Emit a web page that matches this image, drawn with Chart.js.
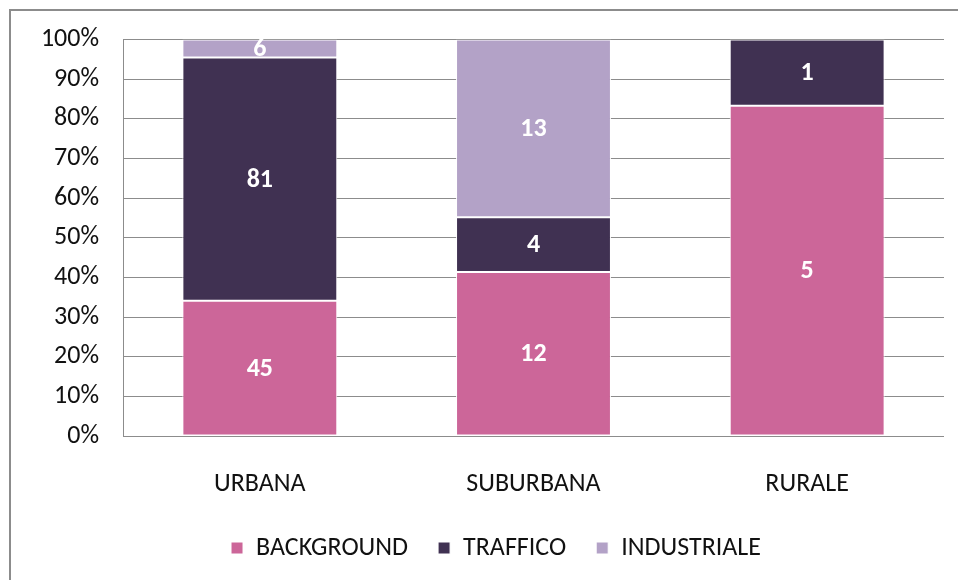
<!DOCTYPE html>
<html>
<head>
<meta charset="utf-8">
<script src="https://cdn.jsdelivr.net/npm/chart.js@4"></script>
<style>
  html, body { margin: 0; padding: 0; background: #fff; overflow: hidden; }
  #cornice { position: absolute; left: 9px; top: 9px; width: 970px; height: 590px; border: 2px solid #8c8c8c; box-sizing: border-box; }
  #wrap { position: absolute; left: 0; top: 0; width: 958px; height: 590px; }
</style>
</head>
<body>
<div id="cornice"></div>
<div id="wrap"><canvas id="myChart" width="958" height="590"></canvas></div>
<script>
const categorie = ['URBANA', 'SUBURBANA', 'RURALE'];
const background = [45, 12, 5];
const traffico = [81, 4, 1];
const industriale = [6, 13, 0];
const tickPercentuali = [0, 10, 20, 30, 40, 50, 60, 70, 80, 90, 100];

const fontBase = 'Carlito, "Open Sans", sans-serif';

// totale per categoria, serve per la percentuale
const totali = categorie.map((c, i) => background[i] + traffico[i] + industriale[i]);
const percentuale = (serie) => serie.map((v, i) => v / totali[i] * 100);

const serie = [
  { label: 'BACKGROUND', conteggi: background, colore: '#cc6699' },
  { label: 'TRAFFICO', conteggi: traffico, colore: '#403152' },
  { label: 'INDUSTRIALE', conteggi: industriale, colore: '#b3a2c7' }
];

const etichetteDati = {
  id: 'etichetteDati',
  afterLayout(chart) {
    // la legenda nel riferimento sta un po' piu' a destra
    if (chart.legend) {
      chart.legend.left += 14;
      chart.legend.right += 14;
    }
  },
  afterDatasetsDraw(chart) {
    const ctx = chart.ctx;
    ctx.save();
    ctx.fillStyle = '#ffffff';
    ctx.font = 'bold 26px ' + fontBase;
    ctx.textAlign = 'center';
    ctx.textBaseline = 'middle';
    chart.data.datasets.forEach((ds, d) => {
      const meta = chart.getDatasetMeta(d);
      meta.data.forEach((bar, i) => {
        const valore = ds.conteggi[i];
        if (!valore) return;
        ctx.fillText(String(valore), bar.x, (bar.y + bar.base) / 2 + 1);
      });
    });
    ctx.restore();
  }
};

const config = {
  type: 'bar',
  data: {
    labels: categorie,
    datasets: serie.map((s) => ({
      label: s.label,
      conteggi: s.conteggi,
      data: percentuale(s.conteggi),
      backgroundColor: s.colore,
      borderColor: '#ffffff',
      borderWidth: 1,
      borderSkipped: false,
      barPercentage: 0.566,
      categoryPercentage: 1
    }))
  },
  options: {
    responsive: false,
    animation: false,
    layout: { padding: { top: 39, left: 20, right: 14, bottom: 19 } },
    plugins: {
      tooltip: { enabled: false },
      legend: {
        position: 'bottom',
        labels: {
          boxWidth: 12,
          boxHeight: 12,
          padding: 30,
          color: '#111',
          font: { size: 26, family: fontBase }
        }
      }
    },
    scales: {
      x: {
        stacked: true,
        grid: { display: false },
        border: { display: false },
        ticks: { color: '#111', padding: 25, font: { size: 26, family: fontBase } },
        afterFit(scale) { scale.height = 69; }
      },
      y: {
        stacked: true,
        min: 0,
        max: 100,
        afterBuildTicks(scale) { scale.ticks = tickPercentuali.map((v) => ({ value: v })); },
        grid: { color: '#8c8c8c', lineWidth: 1, tickLength: 0 },
        border: { display: true, color: '#8c8c8c', width: 1 },
        ticks: {
          color: '#111',
          padding: 24,
          font: { size: 26, family: fontBase },
          callback: (v) => v + '%'
        },
        afterFit(scale) { scale.width = 103; }
      }
    }
  },
  plugins: [etichetteDati]
};

new Chart(document.getElementById('myChart'), config);
</script>
</body>
</html>
